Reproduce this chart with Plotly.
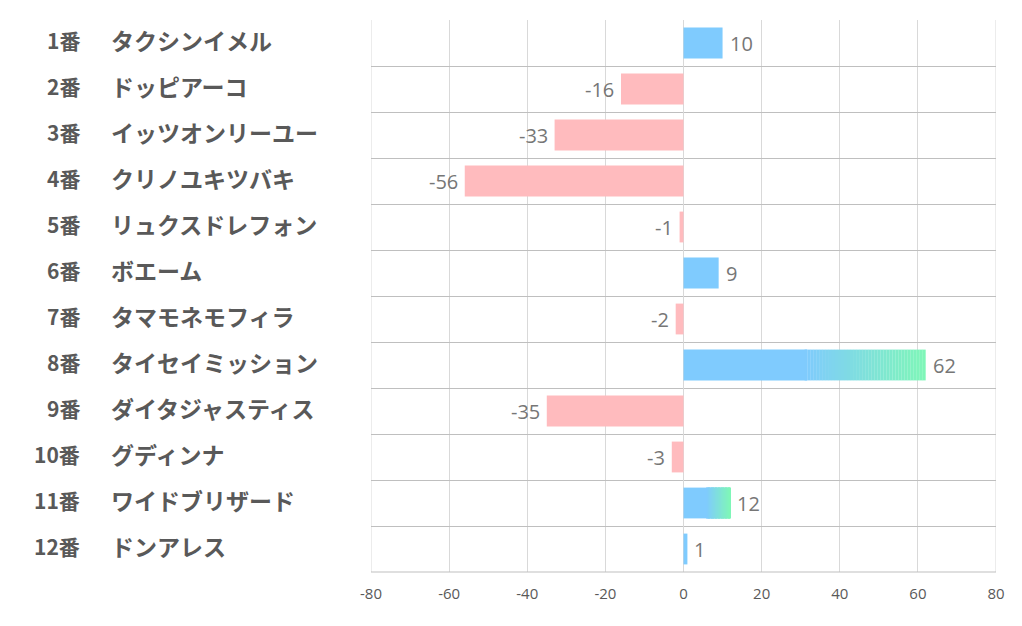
import plotly.graph_objects as go

numbers = ["1番", "2番", "3番", "4番", "5番", "6番", "7番", "8番", "9番", "10番", "11番", "12番"]
names = ["タクシンイメル", "ドッピアーコ", "イッツオンリーユー", "クリノユキツバキ", "リュクスドレフォン",
         "ボエーム", "タマモネモフィラ", "タイセイミッション", "ダイタジャスティス", "グディンナ",
         "ワイドブリザード", "ドンアレス"]
values = [10, -16, -33, -56, -1, 9, -2, 62, -35, -3, 12, 1]
x_ticks = [-80, -60, -40, -20, 0, 20, 40, 60, 80]

BLUE = (127, 203, 254)
GREEN = (128, 247, 184)
PINK = "rgb(255,187,190)"
BAR_W = 0.67
N_SEG = 40

def rgb(c):
    return "rgb(%d,%d,%d)" % c

ys, bases, lens, cols = [], [], [], []
for i, v in enumerate(values):
    if v < 0:
        ys.append(i); bases.append(0); lens.append(v); cols.append(PINK)
    elif v > 10:
        half = v / 2
        ys.append(i); bases.append(0); lens.append(half + v * 0.01); cols.append(rgb(BLUE))
        step = (v - half) / N_SEG
        for k in range(N_SEG):
            t = (k + 0.5) / N_SEG
            c = tuple(BLUE[j] + (GREEN[j] - BLUE[j]) * t for j in range(3))
            ys.append(i); bases.append(half + k * step)
            lens.append(step * 1.05 if k < N_SEG - 1 else step); cols.append(rgb(c))
    else:
        ys.append(i); bases.append(0); lens.append(v); cols.append(rgb(BLUE))

fig = go.Figure()
fig.add_trace(go.Bar(
    y=ys, x=lens, base=bases, orientation="h", width=BAR_W,
    marker=dict(color=cols, line=dict(width=0)), hoverinfo="skip", showlegend=False,
))

for i, v in enumerate(values):
    fig.add_annotation(x=v, y=i, xref="x", yref="y", text=str(v), showarrow=False,
                       xanchor="left" if v >= 0 else "right", xshift=5 if v >= 0 else -5,
                       font=dict(family="Open Sans", size=20, color="#767676"))

# Page body has an 8px margin; compensate so the plot lands at the reference pixels
OFF = 8
W, H = 1022, 626
L, R, T, B = 371 - OFF, 1022 - 996 + OFF, 20 - OFF, 626 - 572 + OFF
pw = W - L - R
for i, (n, nm) in enumerate(zip(numbers, names)):
    fig.add_annotation(x=(82 - OFF - L) / pw, xref="paper", y=i, yref="y", text=n,
                       xanchor="right", showarrow=False, yshift=3,
                       font=dict(family="Noto Sans CJK JP", size=21, color="#595959", weight="bold"))
    fig.add_annotation(x=(109 - OFF - L) / pw, xref="paper", y=i, yref="y", text=nm,
                       xanchor="left", showarrow=False, yshift=3,
                       font=dict(family="Noto Sans CJK JP", size=23, color="#595959", weight="bold"))

for xv in (x_ticks[0], x_ticks[-1]):
    fig.add_shape(type="line", xref="x", yref="paper", x0=xv, x1=xv, y0=0, y1=1,
                  line=dict(color="#d9d9d9", width=1), layer="below")
fig.add_shape(type="line", xref="paper", yref="paper", x0=0, x1=1, y0=0, y1=0,
              line=dict(color="#bfbfbf", width=1))

fig.update_layout(
    width=W, height=H, margin=dict(l=L, r=R, t=T, b=B, autoexpand=False),
    paper_bgcolor="white", plot_bgcolor="white", barmode="overlay",
    xaxis=dict(range=[-80, 80], tickvals=x_ticks, ticktext=[str(t) for t in x_ticks],
               showgrid=True, gridcolor="#d9d9d9", gridwidth=1, zeroline=True,
               zerolinecolor="#d9d9d9", zerolinewidth=1,
               showline=False, ticks="", ticklen=0, ticklabelstandoff=11,
               tickfont=dict(family="Open Sans", size=15, color="#595959")),
    yaxis=dict(range=[len(values) - 0.5, -0.5], tickvals=[i - 0.5 for i in range(len(values) + 1)],
               showticklabels=False, showgrid=True, gridcolor="#bfbfbf", gridwidth=1,
               zeroline=False, showline=False, ticks=""),
    font=dict(family="Open Sans"),
)
fig.write_html("out.html")
